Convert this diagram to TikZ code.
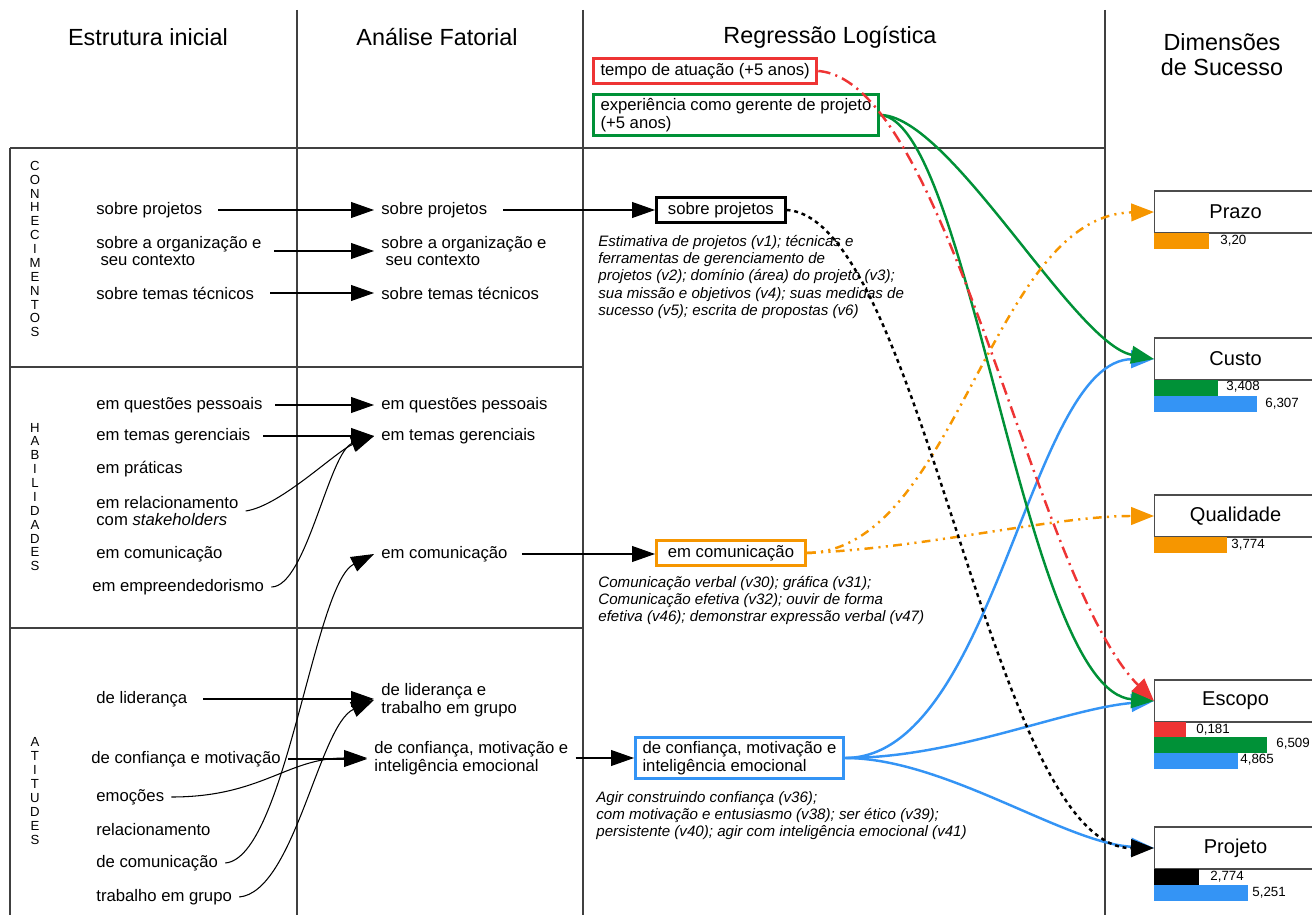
\documentclass[tikz,border=0pt]{standalone}
\usepackage{fontspec}
\setmainfont{Liberation Sans}
\usetikzlibrary{arrows.meta}
\definecolor{regred}{RGB}{238,52,52}
\definecolor{reggreen}{RGB}{0,145,55}
\definecolor{regblue}{RGB}{52,148,245}
\definecolor{regorange}{RGB}{246,150,0}
\tikzset{
  sepline/.style={line width=0.7pt, black!75},
  lbl/.style={font=\fontsize{9.5}{10}\selectfont, align=left, anchor=west, inner xsep=4pt, inner ysep=1pt},
  hdr/.style={font=\fontsize{13.3}{14.2}\selectfont, align=center},
  vert/.style={font=\fontsize{7.5}{7.9}\selectfont, align=center, inner sep=0pt},
  desc/.style={font=\fontsize{8.6}{9.8}\selectfont\itshape, align=left, anchor=north west, inner sep=0pt},
  regbox/.style={lbl, draw, line width=1.7pt, inner ysep=2.5pt},
  dimbox/.style={draw=black!70, line width=0.7pt, anchor=west, minimum width=3.24cm, minimum height=0.84cm, font=\fontsize{11.4}{12}\selectfont},
  val/.style={font=\fontsize{7.6}{8}\selectfont, anchor=west, inner sep=0pt},
  arr/.style={-{Triangle[length=13pt,width=9pt]}, line width=0.6pt},
  link/.style={-{Triangle[length=13pt,width=10pt]}, line width=1.4pt},
}
\begin{document}
\begin{tikzpicture}[x=0.02cm, y=-0.02cm]
		%%%%% START %%%%%
		\useasboundingbox (0,0) rectangle (1312,915);
		
		\draw[sepline] (297,10) -- (297,915);
		\draw[sepline] (583,10) -- (583,915);
		\draw[sepline] (1105,10) -- (1105,915);
		\draw[sepline] (10,148) -- (1105,148);
		\draw[sepline] (10,148) -- (10,915);
		\draw[sepline] (10,367) -- (583,367);
		\draw[sepline] (10,628) -- (583,628);
		
		\node[hdr] (h1) at (148,37) {Estrutura inicial};
		\node[hdr] (h2) at (437,37) {Análise Fatorial};
		\node[hdr] (h3) at (830,37) {Regressão Logística};
		\node[hdr] (h4) at (1222,55) {Dimensões\\de Sucesso};
		
		\node[vert] (vcon) at (35,249) {C\\O\\N\\H\\E\\C\\I\\M\\E\\N\\T\\O\\S};
		\node[vert] (vhab) at (35,497) {H\\A\\B\\I\\L\\I\\D\\A\\D\\E\\S};
		\node[vert] (vati) at (35,791) {A\\T\\I\\T\\U\\D\\E\\S};
		
		% estrutura inicial
		\node[lbl] (sp1) at (89,210) {sobre projetos};
		\node[lbl] (org1) at (89,251) {sobre a organização e\\\hspace{0.25em}seu contexto};
		\node[lbl] (tec1) at (89,293) {sobre temas técnicos};
		\node[lbl] (qp1) at (89,405) {em questões pessoais};
		\node[lbl] (tg1) at (89,436) {em temas gerenciais};
		\node[lbl] (pr1) at (89,469) {em práticas};
		\node[lbl] (rel1) at (89,511) {em relacionamento\\com \textit{stakeholders}};
		\node[lbl] (com1) at (89,554) {em comunicação};
		\node[lbl] (emp1) at (85,587) {em empreendedorismo};
		\node[lbl] (lid1) at (89,699) {de liderança};
		\node[lbl] (conf1) at (84,759) {de confiança e motivação};
		\node[lbl] (emo1) at (89,797) {emoções};
		\node[lbl] (rela1) at (89,830) {relacionamento};
		\node[lbl] (dcom1) at (89,863) {de comunicação};
		\node[lbl] (trab1) at (89,897) {trabalho em grupo};
		
		% analise fatorial
		\node[lbl] (sp2) at (374,210) {sobre projetos};
		\node[lbl] (org2) at (374,251) {sobre a organização e\\\hspace{0.25em}seu contexto};
		\node[lbl] (tec2) at (374,293) {sobre temas técnicos};
		\node[lbl] (qp2) at (374,405) {em questões pessoais};
		\node[lbl] (tg2) at (374,436) {em temas gerenciais};
		\node[lbl] (com2) at (374,554) {em comunicação};
		\node[lbl] (lid2) at (374,700) {de liderança e\\trabalho em grupo};
		\node[lbl] (conf2) at (367,758) {de confiança, motivação e\\inteligência emocional};
		
		\draw[arr, shorten <=5pt] (sp1.east) -- (sp1.east -| sp2.west);
		\draw[arr, shorten <=3pt] (org1.east) -- (org1.east -| org2.west);
		\draw[arr, shorten <=5pt] (tec1.east) -- (tec1.east -| tec2.west);
		\draw[arr, shorten <=3pt] (qp1.east) -- (qp1.east -| qp2.west);
		\draw[arr, shorten <=3pt] (tg1.east) -- (tg1.east -| tg2.west);
		\draw[arr] (rel1.east) .. controls +(35,-5) and +(-38,15) .. (tg2.west);
		\draw[arr] (emp1.east) .. controls +(35,0) and +(-45,15) .. (tg2.west);
		\draw[arr, shorten <=5pt] (lid1.east) -- (lid1.east -| lid2.west);
		\draw[arr] (conf1.east) -- (conf1.east -| conf2.west);
		\draw[arr] (emo1.east) .. controls +(90,0) and +(-80,0) .. (conf2.west);
		\draw[arr] (dcom1.east) .. controls +(60,-5) and +(-60,30) .. (com2.west);
		\draw[arr] (trab1.east) .. controls +(55,-5) and +(-55,25) .. (lid2.west);
		
		% regressao logistica
		\node[regbox, draw=regred] (tempo) at (592,71) {tempo de atuação (+5 anos)};
		\node[regbox, draw=reggreen] (exper) at (592,115) {experiência como gerente de projeto\\(+5 anos)};
		\node[regbox, inner xsep=6.5pt] (sp3) at (655,210) {sobre projetos};
		\node[regbox, draw=regorange, inner xsep=6.5pt] (com3) at (655,553) {em comunicação};
		\node[regbox, draw=regblue] (conf3) at (634,758) {de confiança, motivação e\\inteligência emocional};
		
		\node[desc] (dsp) at (598,235) {Estimativa de projetos (v1); técnicas e\\ferramentas de gerenciamento de\\projetos (v2); domínio (área) do projeto (v3);\\sua missão e objetivos (v4); suas medidas de\\sucesso (v5); escrita de propostas (v6)};
		\node[desc] (dcom) at (598,576) {Comunicação verbal (v30); gráfica (v31);\\Comunicação efetiva (v32); ouvir de forma\\efetiva (v46); demonstrar expressão verbal (v47)};
		\node[desc] (dconf) at (596,791) {Agir construindo confiança (v36);\\com motivação e entusiasmo (v38); ser ético (v39);\\persistente (v40); agir com inteligência emocional (v41)};
		
		\draw[arr, shorten <=5pt] (sp2.east) -- (sp2.east -| sp3.west);
		\draw[arr, shorten <=4pt] (com2.east) -- (com2.east -| com3.west);
		\draw[arr] (conf2.east) -- (conf2.east -| conf3.west);
		
		% dimensoes de sucesso
		\node[dimbox] (prazo) at (1154,212) {Prazo};
		\node[dimbox] (custo) at (1154,359) {Custo};
		\node[dimbox] (quali) at (1154,516) {Qualidade};
		\node[dimbox] (escopo) at (1154,701) {Escopo};
		\node[dimbox] (projeto) at (1154,848) {Projeto};
		
		\fill[regorange] (1154,233) rectangle (1209,249);
		\node[val] (vprazo) at (1220,241) {3,20};
		\fill[reggreen] (1154,380) rectangle (1218,396);
		\node[val] (vcusto1) at (1226,387) {3,408};
		\fill[regblue] (1154,396) rectangle (1257,412);
		\node[val] (vcusto2) at (1265,404) {6,307};
		\fill[regorange] (1154,537) rectangle (1227,553);
		\node[val] (vquali) at (1231,545) {3,774};
		\fill[regred] (1154,722) rectangle (1186,737);
		\node[val] (vesc1) at (1196,730) {0,181};
		\fill[reggreen] (1154,737) rectangle (1267,753);
		\node[val] (vesc2) at (1276,744) {6,509};
		\fill[regblue] (1154,753) rectangle (1238,769);
		\node[val] (vesc3) at (1240,760) {4,865};
		\fill[black] (1154,869) rectangle (1199,885);
		\node[val] (vproj1) at (1210,877) {2,774};
		\fill[regblue] (1154,885) rectangle (1248,901);
		\node[val] (vproj2) at (1252,893) {5,251};
		
		% ligacoes
		\draw[link, regblue] (conf3.east) .. controls +(150,0) and +(-125,1) .. (custo.west);
		\draw[link, regblue] (conf3.east) .. controls +(110,0) and +(-90,8) .. (escopo.west);
		\draw[link, regblue] (conf3.east) .. controls +(100,0) and +(-90,-5) .. (projeto.west);
		\draw[link, reggreen] (exper.east) .. controls +(70,0) and +(-80,-15) .. (custo.west);
		\draw[link, reggreen] (exper.east) .. controls +(90,5) and +(-130,-10) .. (escopo.west);
		\draw[link, regorange, dash pattern=on 5pt off 3pt on 1.2pt off 3pt on 1.2pt off 3pt] (com3.east) .. controls +(150,-3) and +(-163,3) .. (prazo.west);
		\draw[link, regorange, dash pattern=on 5pt off 3pt on 1.2pt off 3pt on 1.2pt off 3pt] (com3.east) .. controls +(120,-5) and +(-100,0) .. (quali.west);
		\draw[link, regred, dash pattern=on 7pt off 3pt on 1.2pt off 3pt] (tempo.east) .. controls +(130,10) and +(-120,-120) .. (escopo.west);
		\draw[link, black, dash pattern=on 2.2pt off 2.2pt] (sp3.east) .. controls +(135,8) and +(-163,1) .. (projeto.west);
		%%%%% END %%%%%
\end{tikzpicture}
\end{document}
